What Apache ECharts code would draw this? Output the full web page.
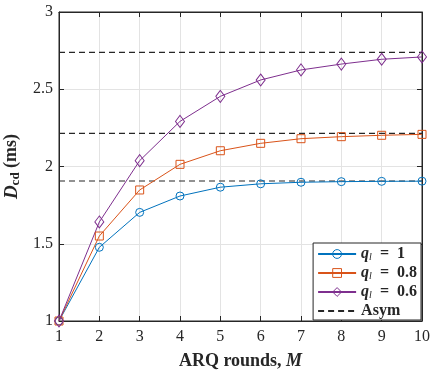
<!DOCTYPE html>
<html><head><meta charset="utf-8">
<script src="https://cdn.jsdelivr.net/npm/echarts@6/dist/echarts.min.js"></script>
<style>html,body{margin:0;padding:0;background:#fff}#c{width:430px;height:372px}</style>
</head><body><div id="c"></div>
<script>
const rounds = [1,2,3,4,5,6,7,8,9,10];
const q1 = [1.00,1.477,1.703,1.809,1.866,1.888,1.898,1.902,1.904,1.905];
const q08 = [1.00,1.550,1.848,2.014,2.102,2.150,2.180,2.193,2.202,2.208];
const q06 = [1.00,1.641,2.038,2.292,2.454,2.560,2.625,2.663,2.694,2.709];
const asym = [1.906,2.215,2.739];
const xTicks = {min:1,max:10,interval:1};
const yTicks = {min:1,max:3,interval:0.5};

const FONT = 'Liberation Serif';
const chart = echarts.init(document.getElementById('c'), null, {renderer:'canvas'});
const mk = (arr) => rounds.map((x,i)=>[x,arr[i]]);
const sty = (c) => ({color:'rgba(255,255,255,0)',borderColor:c,borderWidth:1});
const series = [
  {name:'q1',type:'line',data:mk(q1),color:'#0072BD',symbol:'circle',symbolSize:8,lineStyle:{width:1,color:'#0072BD'},itemStyle:sty('#0072BD'),z:5},
  {name:'q08',type:'line',data:mk(q08),color:'#D95319',symbol:'rect',symbolSize:8,lineStyle:{width:1,color:'#D95319'},itemStyle:sty('#D95319'),z:5},
  {name:'q06',type:'line',data:mk(q06),color:'#7E2F8E',symbol:'diamond',symbolSize:[9,12],lineStyle:{width:1,color:'#7E2F8E'},itemStyle:sty('#7E2F8E'),z:5}
];
asym.forEach(a=>{
  series.push({name:'Asym',type:'line',data:[[xTicks.min,a],[xTicks.max,a]],color:'#262626',symbol:'none',
    lineStyle:{width:1.2,type:[6,4],color:'#262626'},z:4,silent:true});
});
const labelMap = {q1:'{q|q}{l|l}{t|  =  1}', q08:'{q|q}{l|l}{t|  =  0.8}', q06:'{q|q}{l|l}{t|  =  0.6}', Asym:'{t|Asym}'};
chart.setOption({
  animation:false,
  grid:{left:59,right:8,top:12,bottom:51,show:true,borderColor:'#262626',borderWidth:1,outerBoundsMode:'none',containLabel:false},
  xAxis:[{type:'value',min:xTicks.min,max:xTicks.max,interval:xTicks.interval,
    axisLine:{lineStyle:{color:'#262626'}},axisTick:{inside:true,length:5,lineStyle:{color:'#262626'}},
    axisLabel:{fontFamily:FONT,fontSize:16,color:'#262626',margin:8},
    splitLine:{lineStyle:{color:'#e3e3e3'}},
    name:'{b|ARQ rounds, }{i|M}',nameLocation:'middle',nameGap:31,
    nameTextStyle:{rich:{b:{fontFamily:FONT,fontWeight:'bold',fontSize:18,color:'#262626'},i:{fontFamily:FONT,fontWeight:'bold',fontStyle:'italic',fontSize:18,color:'#262626'}}}},
    {type:'value',position:'top',min:xTicks.min,max:xTicks.max,interval:xTicks.interval,
    axisLine:{lineStyle:{color:'#262626'}},axisTick:{inside:true,length:5,lineStyle:{color:'#262626'}},axisLabel:{show:false},splitLine:{show:false}}],
  yAxis:[{type:'value',min:yTicks.min,max:yTicks.max,interval:yTicks.interval,
    axisLine:{show:true,lineStyle:{color:'#262626'}},axisTick:{show:true,inside:true,length:5,lineStyle:{color:'#262626'}},
    axisLabel:{fontFamily:FONT,fontSize:16,color:'#262626',margin:6},
    splitLine:{lineStyle:{color:'#e3e3e3'}},
    name:'{b|D}{s|cd}{n| (ms)}',nameLocation:'middle',nameGap:35,nameRotate:90,
    nameTextStyle:{rich:{b:{fontFamily:FONT,fontWeight:'bold',fontStyle:'italic',fontSize:19,color:'#262626'},
      s:{fontFamily:FONT,fontWeight:'bold',fontSize:13,color:'#262626',padding:[8,0,0,0]},
      n:{fontFamily:FONT,fontWeight:'bold',fontSize:18,color:'#262626'}}}},
    {type:'value',position:'right',min:yTicks.min,max:yTicks.max,interval:yTicks.interval,
    axisLine:{show:true,lineStyle:{color:'#262626'}},axisTick:{show:true,inside:true,length:5,lineStyle:{color:'#262626'}},axisLabel:{show:false},splitLine:{show:false}}],
  legend:{data:['q1','q08','q06',{name:'Asym',itemStyle:{opacity:0}}],orient:'vertical',right:9,bottom:52,
    backgroundColor:'#fff',borderColor:'#262626',borderWidth:1,padding:[3,4,1,4],itemGap:3,itemWidth:38,itemHeight:11,
    itemStyle:{borderWidth:1},
    formatter:n=>labelMap[n],
    textStyle:{rich:{q:{fontFamily:FONT,fontWeight:'bold',fontStyle:'italic',fontSize:16,color:'#262626'},
      l:{fontFamily:FONT,fontStyle:'italic',fontSize:10,color:'#262626',padding:[6,0,0,0]},
      t:{fontFamily:FONT,fontWeight:'bold',fontSize:16,color:'#262626'}}}},
  series:series
});
</script></body></html>
